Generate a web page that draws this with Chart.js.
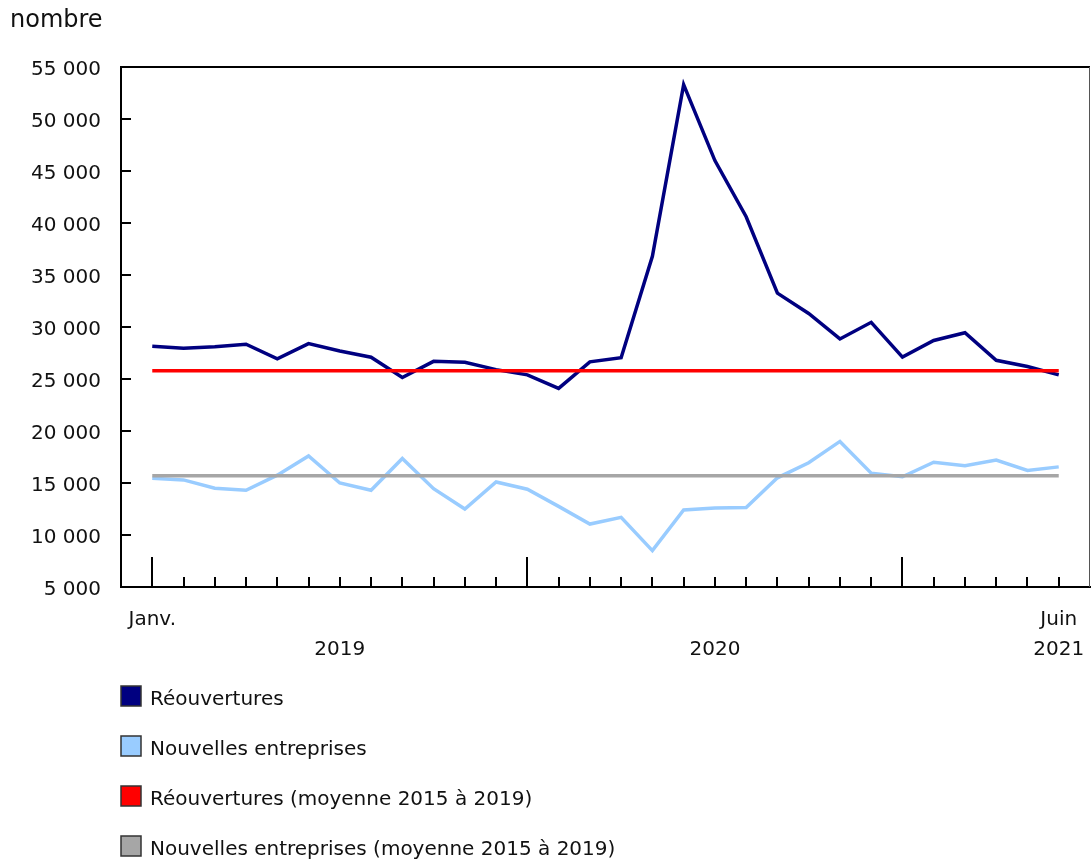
<!DOCTYPE html>
<html><head><meta charset="utf-8">
<script src="https://cdn.jsdelivr.net/npm/chart.js@4/dist/chart.umd.min.js"></script>
<style>html,body{margin:0;padding:0;background:#fff}#wrap{width:1091px;height:861px;position:relative}</style>
</head><body><div id="wrap"><canvas id="c" width="1091" height="861"></canvas></div>
<script>
// ---- data ----
const months = ["Janv. 2019","Févr. 2019","Mars 2019","Avr. 2019","Mai 2019","Juin 2019","Juil. 2019","Août 2019","Sept. 2019","Oct. 2019","Nov. 2019","Déc. 2019",
  "Janv. 2020","Févr. 2020","Mars 2020","Avr. 2020","Mai 2020","Juin 2020","Juil. 2020","Août 2020","Sept. 2020","Oct. 2020","Nov. 2020","Déc. 2020",
  "Janv. 2021","Févr. 2021","Mars 2021","Avr. 2021","Mai 2021","Juin 2021"];
const reouvertures = [28150,27950,28100,28350,26950,28400,27700,27100,25150,26700,26600,25900,
  25400,24100,26650,27050,36800,53300,46000,40600,33250,31300,28850,30450,
  27100,28700,29450,26800,26200,25400];
const nouvellesEntreprises = [15450,15300,14500,14300,15750,17600,15000,14300,17350,14450,12500,15100,
  14400,12750,11050,11700,8500,12400,12600,12650,15500,16950,19000,15950,
  15600,17000,16650,17200,16200,16550];
const reouverturesMoyenne = [25800,25800,25800,25800,25800,25800,25800,25800,25800,25800,25800,25800,
  25800,25800,25800,25800,25800,25800,25800,25800,25800,25800,25800,25800,
  25800,25800,25800,25800,25800,25800];
const nouvellesMoyenne = [15700,15700,15700,15700,15700,15700,15700,15700,15700,15700,15700,15700,
  15700,15700,15700,15700,15700,15700,15700,15700,15700,15700,15700,15700,
  15700,15700,15700,15700,15700,15700];
const seriesLabels = ["Réouvertures","Nouvelles entreprises","Réouvertures (moyenne 2015 à 2019)","Nouvelles entreprises (moyenne 2015 à 2019)"];
const seriesColors = ["#000080","#99ccff","#ff0000","#a6a6a6"];
const yTickValues = [5000,10000,15000,20000,25000,30000,35000,40000,45000,50000,55000];
const xTickPositions = [0,6,18,29];
const xTickTexts = [["Janv.",""],["","2019"],["","2020"],["Juin","2021"]];
const majorTickMonths = [0,12,24];
const yAxisTitle = "nombre";

// ---- chart ----
const FONT = "'DejaVu Sans', Verdana, sans-serif";
const TXT = '#111';
const pts = arr => arr.map((v,i)=>({x:i,y:v}));
const fmt = v => String(v).replace(/\B(?=(\d{3})+(?!\d))/g, ' ');

const extras = {
  id:'extras',
  afterDraw(chart){
    const c = chart.ctx, a = chart.chartArea, xs = chart.scales.x, ys = chart.scales.y;
    c.save();
    c.strokeStyle = '#000'; c.lineWidth = 2;
    c.beginPath(); c.moveTo(a.left-1, a.top); c.lineTo(a.right, a.top); c.stroke();
    c.strokeStyle = '#555'; c.lineWidth = 1;
    c.beginPath(); c.moveTo(a.right-0.5, a.top); c.lineTo(a.right-0.5, a.bottom); c.stroke();
    c.strokeStyle = '#000'; c.lineWidth = 2;
    yTickValues.forEach(v=>{
      const y = Math.round(ys.getPixelForValue(v));
      c.beginPath(); c.moveTo(a.left, y); c.lineTo(a.left+10, y); c.stroke();
    });
    months.forEach((m,i)=>{
      const x = Math.round(xs.getPixelForValue(i));
      const len = majorTickMonths.includes(i) ? 30 : 10;
      c.beginPath(); c.moveTo(x, a.bottom); c.lineTo(x, a.bottom-len); c.stroke();
    });
    c.fillStyle = TXT; c.textBaseline = 'alphabetic'; c.textAlign = 'left';
    c.font = '24px ' + FONT;
    c.fillText(yAxisTitle, 10, 27);
    c.font = '20px ' + FONT;
    seriesLabels.forEach((lab,i)=>{
      const top = 686 + i*50;
      c.fillStyle = seriesColors[i]; c.fillRect(121, top, 20, 20);
      c.strokeStyle = '#333'; c.lineWidth = 1.5; c.strokeRect(121, top, 20, 20);
      c.fillStyle = TXT; c.fillText(lab, 150, top + 19);
    });
    c.restore();
  }
};

new Chart(document.getElementById('c'), {
  type:'line',
  data:{datasets:[
    {label:seriesLabels[0], data:pts(reouvertures), borderColor:seriesColors[0], borderWidth:3.5, pointRadius:0, order:2, tension:0},
    {label:seriesLabels[1], data:pts(nouvellesEntreprises), borderColor:seriesColors[1], borderWidth:3.5, pointRadius:0, order:3, tension:0},
    {label:seriesLabels[2], data:pts(reouverturesMoyenne), borderColor:seriesColors[2], borderWidth:3.5, pointRadius:0, order:0, tension:0},
    {label:seriesLabels[3], data:pts(nouvellesMoyenne), borderColor:seriesColors[3], borderWidth:3.5, pointRadius:0, order:1, tension:0}
  ]},
  options:{
    responsive:false, animation:false, devicePixelRatio:1,
    layout:{padding:{top:67,right:1,left:0,bottom:0}},
    plugins:{legend:{display:false}, tooltip:{enabled:false}, title:{display:false}},
    scales:{
      x:{type:'linear', min:-1, max:30,
        afterFit(s){ s.height = 274; s.paddingLeft = 0; s.paddingRight = 0; },
        afterBuildTicks(s){ s.ticks = xTickPositions.map(v=>({value:v})); },
        ticks:{autoSkip:false, maxRotation:0, minRotation:0, padding:18, color:TXT,
          font:{family:FONT, size:20, lineHeight:1.5},
          callback(v){ const k = xTickPositions.indexOf(v); return k>=0 ? xTickTexts[k] : ''; }},
        grid:{display:false, drawTicks:false},
        border:{display:true, color:'#000', width:2}
      },
      y:{min:5000, max:55000,
        afterFit(s){ s.width = 121; s.paddingTop = 0; s.paddingBottom = 0; },
        afterBuildTicks(s){ s.ticks = yTickValues.map(v=>({value:v})); },
        ticks:{padding:20, color:TXT, font:{family:FONT, size:20, lineHeight:0.3}, callback:v=>['', fmt(v)]},
        grid:{display:false, drawTicks:false},
        border:{display:true, color:'#000', width:2}
      }
    }
  },
  plugins:[extras]
});
</script></body></html>
